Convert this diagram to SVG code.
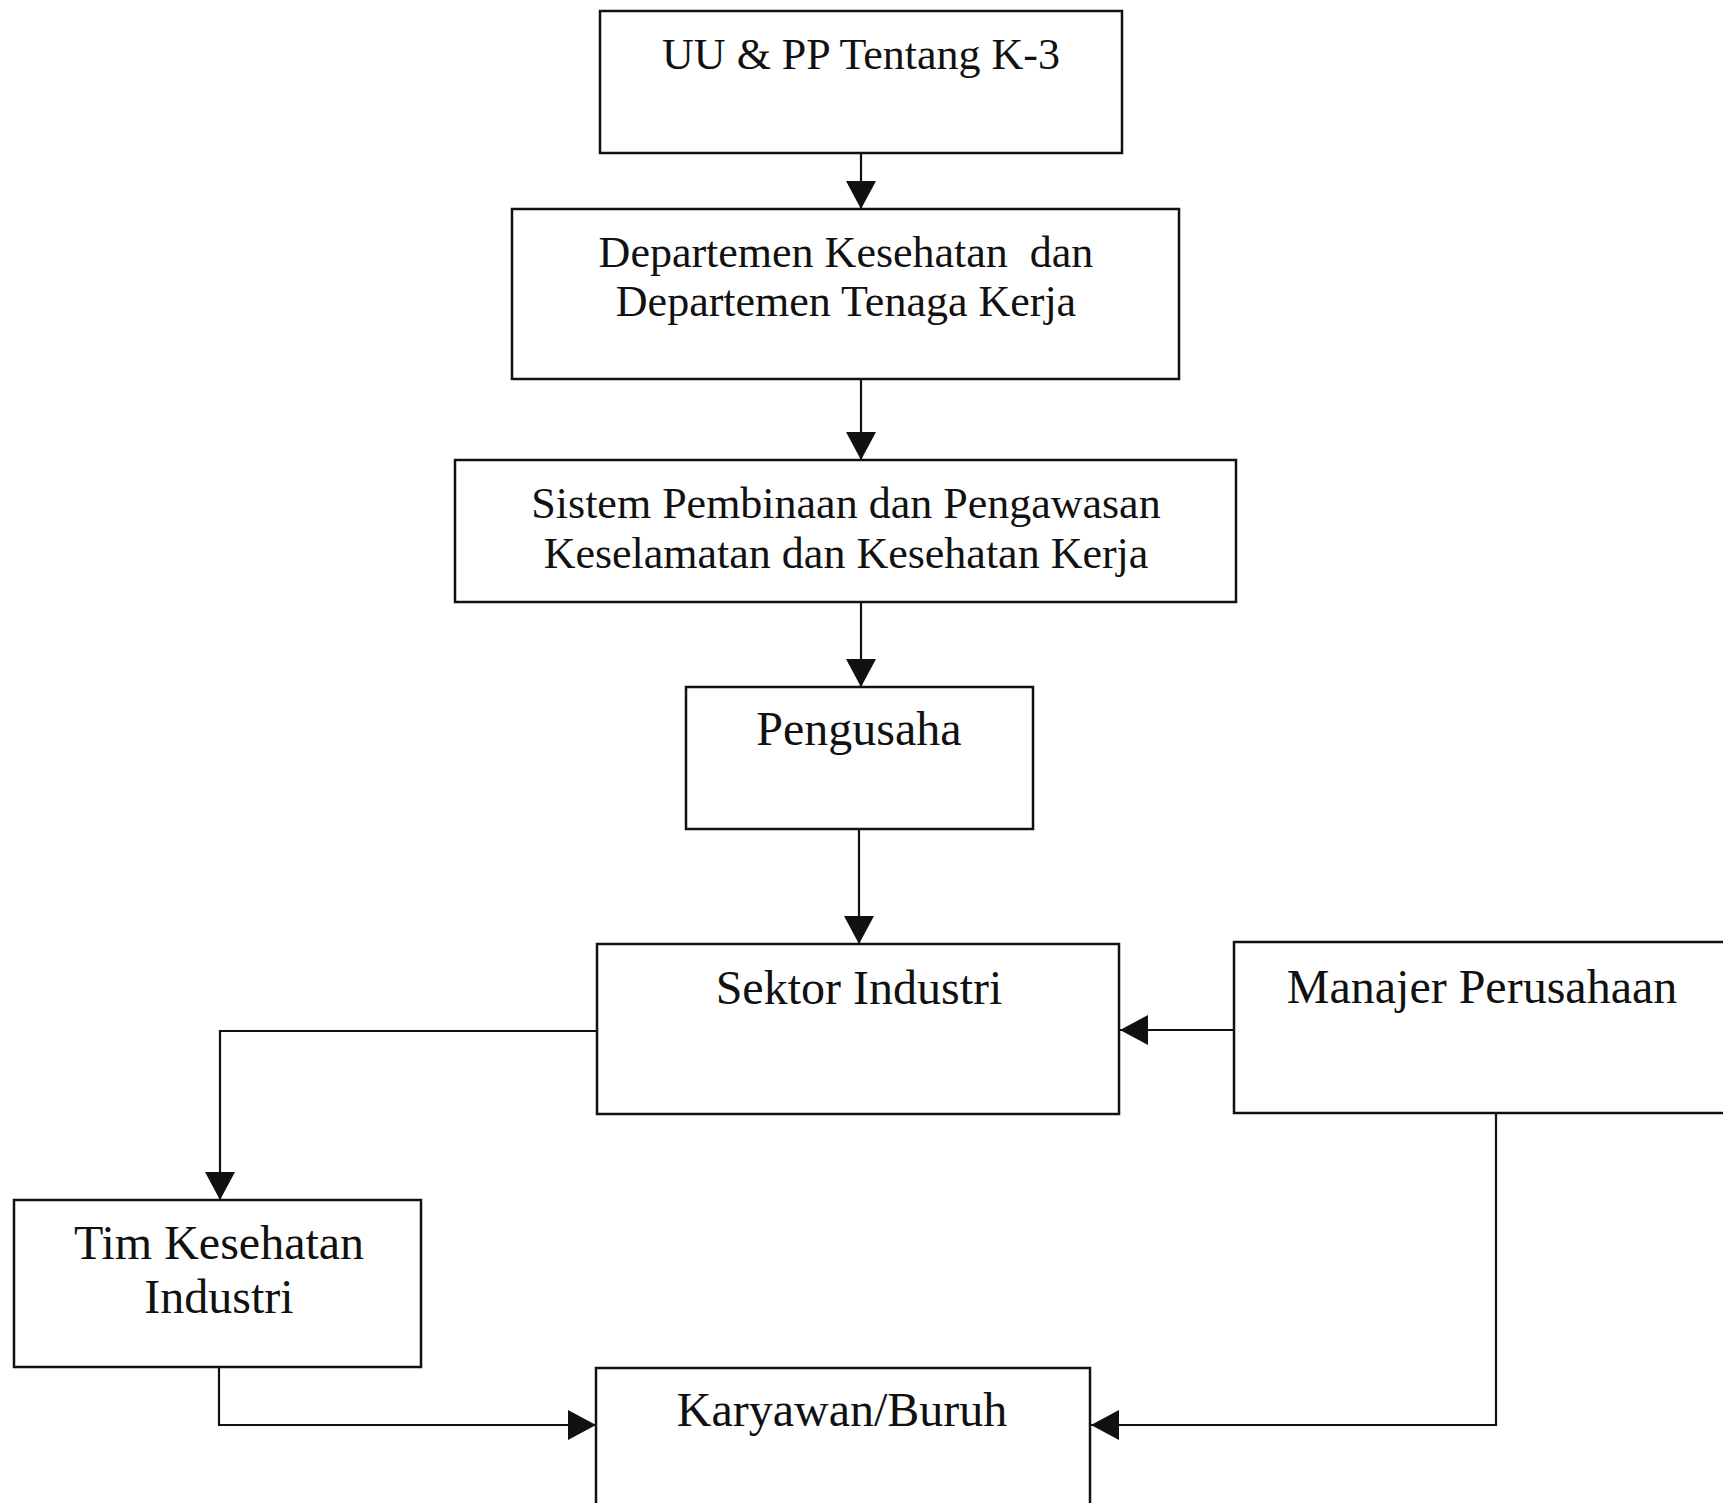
<svg xmlns="http://www.w3.org/2000/svg" width="1723" height="1503" viewBox="0 0 1723 1503">
<style>
.box{fill:#fff;stroke:#111;stroke-width:2.5}
.t{font-family:"Liberation Serif","Times New Roman",serif;fill:#111;text-anchor:middle}
.s44{font-size:44px}
.s48{font-size:48px}
.c{fill:none;stroke:#111;stroke-width:2.2}
</style>
<defs>
<marker id="ah" markerUnits="userSpaceOnUse" markerWidth="28" markerHeight="30" refX="28" refY="15" orient="auto" viewBox="0 0 28 30">
<path d="M0,0 L28,15 L0,30 z" fill="#111"/>
</marker>
</defs>
<rect width="1723" height="1503" fill="#fff"/>
<g id="connectors">
<line class="c" x1="861" y1="153" x2="861" y2="209" marker-end="url(#ah)"/>
<line class="c" x1="861" y1="379" x2="861" y2="460" marker-end="url(#ah)"/>
<line class="c" x1="861" y1="602" x2="861" y2="687" marker-end="url(#ah)"/>
<line class="c" x1="859" y1="829" x2="859" y2="944" marker-end="url(#ah)"/>
<line class="c" x1="1234" y1="1030" x2="1120" y2="1030" marker-end="url(#ah)"/>
<polyline class="c" points="597,1031 220,1031 220,1200" marker-end="url(#ah)"/>
<polyline class="c" points="219,1367 219,1425 596,1425" marker-end="url(#ah)"/>
<polyline class="c" points="1496,1113 1496,1425 1091,1425" marker-end="url(#ah)"/>
</g>
<g id="n1">
<rect class="box" x="600" y="11" width="522" height="142"/>
<text class="t s44" x="861" y="69">UU &amp; PP Tentang K-3</text>
</g>
<g id="n2">
<rect class="box" x="512" y="209" width="667" height="170"/>
<text class="t s44" x="846" y="267" xml:space="preserve">Departemen Kesehatan  dan</text>
<text class="t s44" x="846" y="316">Departemen Tenaga Kerja</text>
</g>
<g id="n3">
<rect class="box" x="455" y="460" width="781" height="142"/>
<text class="t s44" x="846" y="518">Sistem Pembinaan dan Pengawasan</text>
<text class="t s44" x="846" y="568">Keselamatan dan Kesehatan Kerja</text>
</g>
<g id="n4">
<rect class="box" x="686" y="687" width="347" height="142"/>
<text class="t s48" x="859" y="745">Pengusaha</text>
</g>
<g id="n5">
<rect class="box" x="597" y="944" width="522" height="170"/>
<text class="t s48" x="859" y="1004">Sektor Industri</text>
</g>
<g id="n6">
<rect class="box" x="1234" y="942" width="500" height="171"/>
<text class="t s48" x="1482" y="1003">Manajer Perusahaan</text>
</g>
<g id="n7">
<rect class="box" x="14" y="1200" width="407" height="167"/>
<text class="t s48" x="219" y="1259">Tim Kesehatan</text>
<text class="t s48" x="219" y="1313">Industri</text>
</g>
<g id="n8">
<rect class="box" x="596" y="1368" width="494" height="150"/>
<text class="t s48" x="842" y="1426">Karyawan/Buruh</text>
</g>
</svg>
